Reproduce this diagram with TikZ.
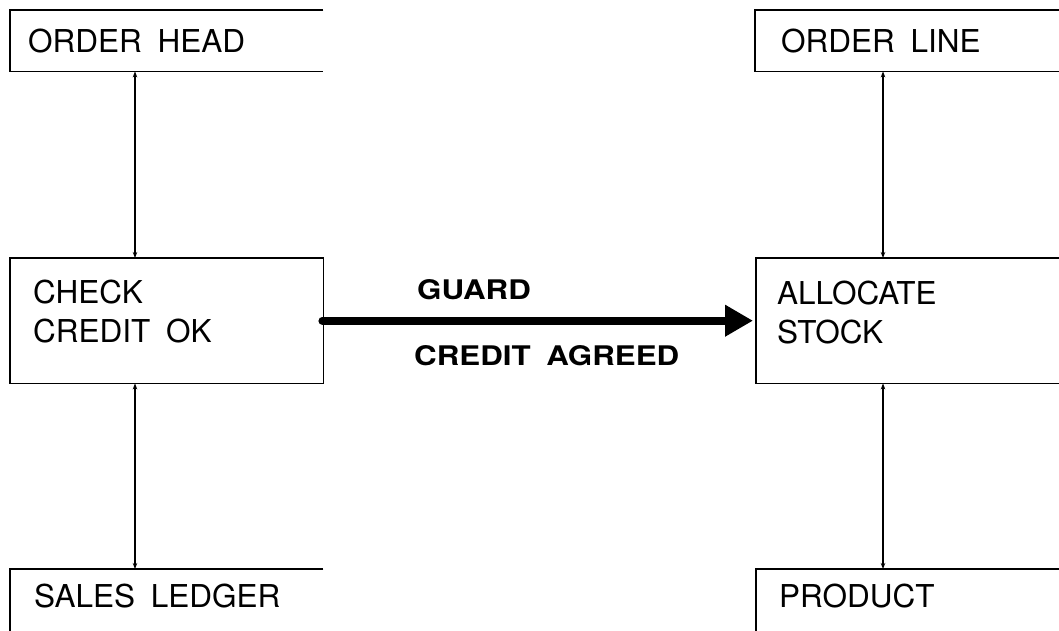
\documentclass[tikz,border=0pt]{standalone}
\usepackage{fontspec}
\usepackage{graphicx}
\setmainfont{TeX Gyre Heros}[WordSpace=1.8]
\usetikzlibrary{arrows.meta}

\tikzset{
  boxline/.style={line width=1.6pt, line join=miter},
  frame/.style={rectangle, inner sep=0pt, anchor=north west},
  label/.style={inner sep=0pt, anchor=base west, font=\fontsize{31.5}{39}\selectfont},
  guard/.style={inner sep=0pt, anchor=base west, font=\bfseries\fontsize{27}{32}\selectfont},
  conn/.style={line width=1.5pt, {Stealth[length=6pt,width=4.5pt]}-{Stealth[length=6pt,width=4.5pt]}},
  flow/.style={line width=8pt, line cap=round, -{Triangle[length=28pt,width=30pt]}, shorten >=3pt}
}

\begin{document}
\begin{tikzpicture}[x=1pt, y=-1pt]
  \useasboundingbox (0,0) rectangle (1059,630);
  \fill[white] (0,0) rectangle (1059,630);
  \clip (0,0) rectangle (1059,630);

  % column lines for the vertical connectors
  \coordinate (lc) at (135,0);
  \coordinate (rc) at (883,0);

  % left column
  \node[frame, minimum width=313pt, minimum height=61pt] (head) at (10,10) {};
  \node[frame, minimum width=313pt, minimum height=125pt] (check) at (10,258) {};
  \node[frame, minimum width=313pt, minimum height=80pt] (ledger) at (10,569) {};

  % right column (runs on past the right border)
  \node[frame, minimum width=320pt, minimum height=61pt] (oline) at (755,10) {};
  \node[frame, minimum width=320pt, minimum height=125pt] (alloc) at (756,258) {};
  \node[frame, minimum width=320pt, minimum height=80pt] (product) at (756,569) {};

  % outlines
  \draw[boxline] (head.north east) -- (head.north west) -- (head.south west) -- (head.south east);
  \draw[boxline] (check.north west) rectangle (check.south east);
  \draw[boxline] (ledger.north east) -- (ledger.north west) -- (ledger.south west);
  \draw[boxline] (oline.north west) rectangle (oline.south east);
  \draw[boxline] (alloc.north west) rectangle (alloc.south east);
  \draw[boxline] (product.north west) rectangle (product.south east);

  % texts
  \node[label] (headtxt) at (28,52) {ORDER HEAD};
  \node[label] (checktxt1) at (33,303) {CHECK};
  \node[label] (checktxt2) at (33,342) {CREDIT OK};
  \node[label] (ledgertxt) at (34,607) {SALES LEDGER};
  \node[label] (olinetxt) at (781,52) {ORDER LINE};
  \node[label] (alloctxt1) at (777,304) {ALLOCATE};
  \node[label] (alloctxt2) at (777,343) {STOCK};
  \node[label] (producttxt) at (779,607) {PRODUCT};

  % vertical connectors
  \draw[conn] (head.south -| lc) -- (check.north -| lc);
  \draw[conn] (check.south -| lc) -- (ledger.north -| lc);
  \draw[conn] (oline.south -| rc) -- (alloc.north -| rc);
  \draw[conn] (alloc.south -| rc) -- (product.north -| rc);

  % guarded flow between the two processes
  \draw[flow] ([xshift=-1pt]check.east) -- (alloc.west);
  \node[guard] (guardtxt) at (417,299) {\scalebox{1.16}[1]{GUARD}};
  \node[guard] (agreedtxt) at (414,365) {\scalebox{1.16}[1]{CREDIT AGREED}};
\end{tikzpicture}
\end{document}
